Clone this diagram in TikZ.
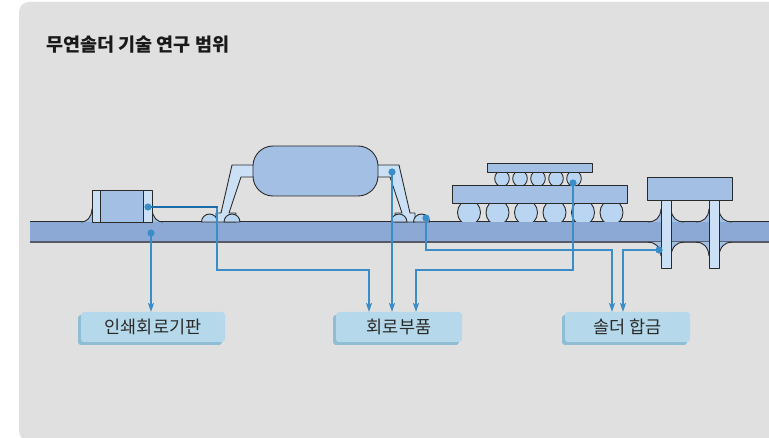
\documentclass[tikz,border=0pt]{standalone}
\usepackage{fontspec}
\newfontfamily\krfont{Noto Sans CJK KR}
\usetikzlibrary{arrows.meta,shadows}

\definecolor{bg}{HTML}{E0E0E0}
\definecolor{boardc}{HTML}{8CA9D6}
\definecolor{partc}{HTML}{A3BFE4}
\definecolor{leadc}{HTML}{CCE0F5}
\definecolor{ballc}{HTML}{B9D5F1}
\definecolor{wirec}{HTML}{3A8DC7}
\definecolor{wiredark}{HTML}{1A6DAA}
\definecolor{tagc}{HTML}{B5D9EA}
\definecolor{tagshadow}{HTML}{8FBDD3}
\definecolor{inkc}{HTML}{2A2A2A}
\definecolor{edgec}{HTML}{555A66}

\tikzset{
  outline/.style={draw=inkc, line width=0.9pt, line join=round},
  wire/.style={draw=wirec, line width=2.4pt},
  feed/.style={wire, -{Stealth[length=9pt,width=6pt,inset=2pt]}},
  dot/.style={fill=wirec},
  tag/.style={fill=tagc, rounded corners=3pt, minimum width=#1, minimum height=30pt,
    inner sep=0pt, font=\krfont\fontsize{17.5}{21}\selectfont, text=inkc,
    general shadow={fill=tagshadow, shadow xshift=-3pt, shadow yshift=-3pt}},
  tag/.default=126pt
}

\begin{document}
\begin{tikzpicture}[x=1pt,y=-1pt]
\useasboundingbox (0,0) rectangle (769,438);

% panel
\fill[bg, rounded corners=10pt] (19,441) rectangle (790,2);

% title
\node[anchor=west, inner sep=0pt, text=black!90, font=\krfont\bfseries\fontsize{18.5}{21}\selectfont]
  (title) at (46,45) {무연솔더 기술 연구 범위};

% printed circuit board
\fill[boardc] (30,222) rectangle (769,242);
\draw[inkc, line width=1pt] (30,222) -- (769,222);
\draw[edgec, line width=1.8pt] (30,242) -- (769,242);

% ---- chip component with end caps ----
\foreach \xa/\xb in {92/81, 152/163} {
  \fill[partc] (\xa,209) .. controls (\xa+0.05*\xb-0.05*\xa,218) and (0.5*\xa+0.5*\xb,222) .. (\xb,222) -- (\xa,222) -- cycle;
  \draw[inkc, line width=0.9pt] (\xa,209) .. controls (\xa+0.05*\xb-0.05*\xa,218) and (0.5*\xa+0.5*\xb,222) .. (\xb,222);
}
\draw[outline, fill=partc] (100,190) rectangle (143,222);
\draw[outline, fill=leadc] (92,190) rectangle (100,222);
\draw[outline, fill=leadc] (143,190) rectangle (152,222);

% ---- gull-wing package ----
\draw[outline, fill=leadc] (254,165) -- (232,165) -- (221,213) -- (216,213) -- (216,222)
  -- (236,222) -- (236,213) -- (229,213) -- (241,177) -- (254,177) -- cycle;
\draw[outline, fill=leadc] (377,165) -- (399,165) -- (410,213) -- (415,213) -- (415,222)
  -- (395,222) -- (395,213) -- (402,213) -- (390,177) -- (377,177) -- cycle;
\foreach \cx in {209.5, 232, 399, 421.5}
  \draw[outline, fill=ballc] (\cx-8,222) arc[start angle=180, end angle=360, radius=8] -- cycle;
\draw[outline, fill=partc, rounded corners=20pt] (253,146) rectangle (378,196);

% ---- ball grid array ----
\foreach \cx in {469, 497.5, 526, 554.5, 583, 611.5} {
  \begin{scope}
    \clip (\cx-14,203) rectangle (\cx+14,222);
    \draw[outline, fill=ballc] (\cx,212.5) ellipse [x radius=11.5, y radius=12.5];
  \end{scope}
}
\foreach \cx in {502, 520, 538, 556, 574} {
  \begin{scope}
    \clip (\cx-9,172) rectangle (\cx+9,185);
    \draw[outline, fill=ballc] (\cx,178.5) ellipse [x radius=7.3, y radius=8];
  \end{scope}
}
\draw[outline, fill=partc] (452,185) rectangle (627,203);
\draw[outline, fill=partc] (487,163) rectangle (592,172);

% ---- through-hole component ----
\foreach \px in {661, 709} {
  % fillets above the board
  \fill[partc] (\px,209) .. controls (\px-0.5,218) and (\px-6,222) .. (\px-13,222) -- (\px,222) -- cycle;
  \draw[inkc, line width=0.9pt] (\px,209) .. controls (\px-0.5,218) and (\px-6,222) .. (\px-13,222);
  \fill[partc] (\px+10,209) .. controls (\px+10.5,218) and (\px+16,222) .. (\px+23,222) -- (\px+10,222) -- cycle;
  \draw[inkc, line width=0.9pt] (\px+10,209) .. controls (\px+10.5,218) and (\px+16,222) .. (\px+23,222);
  % fillets below the board
  \fill[partc] (\px,256) .. controls (\px-0.5,247) and (\px-6,242) .. (\px-13,242) -- (\px,242) -- cycle;
  \draw[inkc, line width=0.9pt] (\px,256) .. controls (\px-0.5,247) and (\px-6,242) .. (\px-13,242);
  \fill[partc] (\px+10,256) .. controls (\px+10.5,247) and (\px+16,242) .. (\px+23,242) -- (\px+10,242) -- cycle;
  \draw[inkc, line width=0.9pt] (\px+10,256) .. controls (\px+10.5,247) and (\px+16,242) .. (\px+23,242);
  % pin
  \draw[outline, fill=leadc] (\px,200) rectangle (\px+10,268);
}
\draw[outline, fill=partc] (647,177) rectangle (732,200);

% ---- category tags ----
\node[tag=144pt] (tPcb)  at (153,327) {인쇄회로기판};
\node[tag=126pt] (tComp) at (399,327) {회로부품};
\node[tag=125pt] (tSold) at (627.5,327) {솔더 합금};

% probe points
\coordinate (pChip)   at (148,207);
\coordinate (pBoard)  at (151,233);
\coordinate (pLead)   at (392,172);
\coordinate (pJoint)  at (426,218);
\coordinate (pBall)   at (573,183);
\coordinate (pFillet) at (659,250);

% arrow entry points on the tags
\coordinate (inPcb)   at (151,312);
\coordinate (inComp1) at (369,312);
\coordinate (inComp2) at (392,312);
\coordinate (inComp3) at (416,312);
\coordinate (inSold1) at (612,312);
\coordinate (inSold2) at (623,312);

% connectors
\draw[feed] (pChip) -- (217,207) -- (217,270) -| (inComp1);
\draw[wiredark, line width=2.4pt] (pChip) -- (218.2,207);
\draw[feed] (pBoard) -- (inPcb);
\draw[feed] (pLead) -- (inComp2);
\draw[feed] (pJoint) -- (426,250) -| (inSold1);
\draw[feed] (pBall) -- (573,270) -| (inComp3);
\draw[feed] (pFillet) -| (inSold2);

\foreach \p in {pChip, pBoard, pLead, pJoint, pBall, pFillet}
  \fill[dot] (\p) circle (3.6);
\end{tikzpicture}
\end{document}
